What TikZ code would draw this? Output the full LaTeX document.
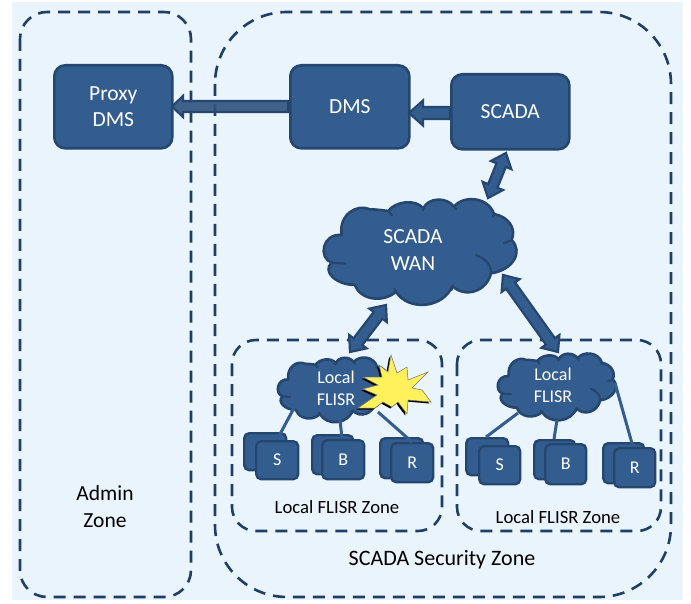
\documentclass[tikz,border=0pt]{standalone}
\usepackage{fontspec}
\setmainfont{Carlito}
\usetikzlibrary{calc}
\definecolor{bgblue}{HTML}{E9F4FC}
\definecolor{boxfill}{HTML}{345D8F}
\definecolor{boxline}{HTML}{25476F}
\definecolor{dashc}{HTML}{1F3F66}
\definecolor{burst}{HTML}{FFF15C}
\tikzset{
  x=1pt,y=-1pt,
  zone/.style={draw=dashc,line width=2.6pt,dash pattern=on 12pt off 8pt,fill=none},
  bluebox/.style={draw=boxline,fill=boxfill,line width=2.6pt,rounded corners=11pt,text=white,font=\fontsize{21.5}{26}\selectfont,align=center,anchor=north west,inner sep=0pt},
  smallbox/.style={draw=boxline,fill=boxfill,line width=2.4pt,rounded corners=5pt,text=white,font=\fontsize{18}{22}\selectfont,inner sep=0pt,anchor=north west},
  cloudbody/.style={draw=boxline,fill=boxfill,line width=2.6pt,line join=round},
  cloudstub/.style={draw=boxline,line width=2.2pt,line cap=round},
  blockar/.style={draw=boxline,fill=boxfill,line width=2.2pt,line join=miter},
  linkline/.style={draw=boxfill,line width=3pt},
  cloudtext/.style={text=white,align=center,inner sep=0pt},
  label/.style={text=black,align=center,inner sep=0pt}
}
% block arrow with a head at both ends: a, b, head length, head half width, shaft half width
\newcommand\dblblock[6][]{%
  \draw[blockar,#1]
    (#2) -- ($($(#2)!#4!(#3)$)!#5!90:(#3)$) -- ($($(#2)!#4!(#3)$)!#6!90:(#3)$)
    -- ($($(#3)!#4!(#2)$)!#6!-90:(#2)$) -- ($($(#3)!#4!(#2)$)!#5!-90:(#2)$)
    -- (#3) -- ($($(#3)!#4!(#2)$)!#5!90:(#2)$) -- ($($(#3)!#4!(#2)$)!#6!90:(#2)$)
    -- ($($(#2)!#4!(#3)$)!#6!-90:(#3)$) -- ($($(#2)!#4!(#3)$)!#5!-90:(#3)$) -- cycle;}
% block arrow with a single head at b
\newcommand\sglblock[6][]{%
  \draw[blockar,#1]
    (#3) -- ($($(#3)!#4!(#2)$)!#5!90:(#2)$) -- ($($(#3)!#4!(#2)$)!#6!90:(#2)$)
    -- ($(#2)!#6!-90:(#3)$) -- ($(#2)!#6!90:(#3)$)
    -- ($($(#3)!#4!(#2)$)!#6!-90:(#2)$) -- ($($(#3)!#4!(#2)$)!#5!-90:(#2)$) -- cycle;}
\newcommand\cloudshape[3]{%
  \begin{scope}[shift={(#1)},xscale=#2,yscale=#3]
  \path[cloudbody] (95,285)
    .. controls (85,225) and (140,190) .. (180,208)
    .. controls (200,208) and (225,212) .. (235,213)
    .. controls (255,185) and (315,175) .. (340,205)
    .. controls (355,172) and (410,170) .. (432,200)
    .. controls (460,165) and (535,170) .. (552,222)
    .. controls (595,230) and (620,265) .. (605,300)
    .. controls (640,335) and (610,390) .. (543,400)
    .. controls (530,455) and (465,475) .. (427,438)
    .. controls (400,505) and (295,515) .. (258,455)
    .. controls (220,490) and (150,480) .. (135,435)
    .. controls (80,435) and (35,395) .. (65,368)
    .. controls (25,355) and (35,280) .. (95,285) -- cycle;
  \draw[cloudstub] (235,213) -- (246,226);
  \draw[cloudstub] (340,205) -- (338,212);
  \draw[cloudstub] (432,200) -- (439,208);
  \draw[cloudstub] (552,222) -- (549,230);
  \draw[cloudstub] (605,300) -- (582,310);
  \draw[cloudstub] (543,400) .. controls (545,375) and (525,355) .. (497,345);
  \draw[cloudstub] (427,438) -- (425,450);
  \draw[cloudstub] (258,455) -- (253,447);
  \draw[cloudstub] (135,435) -- (120,431);
  \draw[cloudstub] (65,368) -- (106,371);
  \end{scope}}
\begin{document}
\begin{tikzpicture}
\useasboundingbox (0,0) rectangle (691,604);
\fill[bgblue] (12,2) rectangle (683,600);
% zones
\draw[zone,rounded corners=27pt] (20,12) rectangle (191,597);
\draw[zone,rounded corners=72pt] (215,12) rectangle (671,597);
\draw[zone,rounded corners=24pt] (232,340) rectangle (442,531);
\draw[zone,rounded corners=24pt] (457,340) rectangle (661,531);
% boxes
\node[bluebox,minimum width=118pt,minimum height=83pt] (proxy) at (53,64) {Proxy\\DMS};
\node[bluebox,minimum width=119pt,minimum height=83pt] (dms) at (289,64) {DMS};
\node[bluebox,minimum width=118pt,minimum height=75pt] (scada) at (450,73) {SCADA};
% clouds
\cloudshape{310,140}{0.3333}{0.3333}
\cloudshape{269.9,321.3}{0.194}{0.204}
\cloudshape{489.4,316}{0.204}{0.211}
\node[cloudtext,font=\fontsize{21.5}{27}\selectfont] (wan) at (413,250) {SCADA\\WAN};
\node[cloudtext,font=\fontsize{18}{22}\selectfont] (lfl) at (336,388) {Local\\FLISR};
\node[cloudtext,font=\fontsize{18}{22}\selectfont] (lfr) at (553,385.5) {Local\\FLISR};
% small boxes
\node[smallbox,minimum width=42pt,minimum height=37pt] (sb1) at (243,432) {};
\node[smallbox,minimum width=42pt,minimum height=38pt] (s1) at (255,440) {S};
\node[smallbox,minimum width=41pt,minimum height=39pt] (bb1) at (311,434) {};
\node[smallbox,minimum width=42pt,minimum height=39pt] (b1) at (321,439) {B};
\node[smallbox,minimum width=43pt,minimum height=40pt] (rb1) at (379,437) {};
\node[smallbox,minimum width=42pt,minimum height=39pt] (r1) at (390,442) {R};
\node[smallbox,minimum width=42pt,minimum height=37pt] (sb2) at (465,437) {};
\node[smallbox,minimum width=41pt,minimum height=38pt] (s2) at (478,445) {S};
\node[smallbox,minimum width=41pt,minimum height=39pt] (bb2) at (533,439) {};
\node[smallbox,minimum width=41pt,minimum height=40pt] (b2) at (544,443) {B};
\node[smallbox,minimum width=41pt,minimum height=40pt] (rb2) at (602,442) {};
\node[smallbox,minimum width=41pt,minimum height=39pt] (r2) at (613,447) {R};
% connector ends
\coordinate (c1a) at (294,408); \coordinate (c1b) at (279,436);
\coordinate (c2a) at (340,420); \coordinate (c2b) at (342,438);
\coordinate (c3a) at (378,412); \coordinate (c3b) at (412,442);
\coordinate (c4a) at (518,413); \coordinate (c4b) at (486,437);
\coordinate (c5a) at (557,420); \coordinate (c5b) at (554,439);
\coordinate (c6a) at (615,383); \coordinate (c6b) at (633,447);
\draw[linkline] (c1a) -- (c1b);
\draw[linkline] (c2a) -- (c2b);
\draw[linkline] (c3a) -- (c3b);
\draw[linkline] (c4a) -- (c4b);
\draw[linkline] (c5a) -- (c5b);
\draw[linkline] (c6a) -- (c6b);
% block arrows
\coordinate (pe) at (172,106.5); \coordinate (de) at (288,106.5);
\coordinate (dr) at (409,113); \coordinate (sl) at (450,113);
\sglblock[fill=boxfill!88!black,fill opacity=.9]{de}{pe}{11pt}{10.5pt}{5.5pt}
\sglblock{sl}{dr}{14pt}{12.5pt}{6pt}
\coordinate (a1) at (506,153); \coordinate (a2) at (488,198);
\coordinate (a3) at (386,305); \coordinate (a4) at (350,352);
\coordinate (a5) at (503,275); \coordinate (a6) at (558,352);
\dblblock{a1}{a2}{13pt}{11pt}{5pt}
\dblblock{a3}{a4}{13pt}{11pt}{5.5pt}
\dblblock{a5}{a6}{13pt}{11pt}{5.5pt}
% burst
\def\burstpts{(391,355) -- (397,373) -- (407,367) -- (408,380) -- (428,372) -- (412,388) -- (422,390)
 -- (431,402) -- (408,400) -- (407,414) -- (398,402) -- (392,407) -- (383,402) -- (375,408)
 -- (358,408) -- (377,395) -- (363,389) -- (378,385) -- (363,377) -- (382,377) -- (379,365) -- (388,372) -- cycle}
\fill[black,xshift=-1.8pt,yshift=-1.5pt] \burstpts;
\draw[fill=burst,draw=black!55,line width=.5pt,line join=miter] \burstpts;
% labels
\node[label,font=\fontsize{21.5}{27}\selectfont] (admin) at (105,507) {Admin\\Zone};
\node[label,font=\fontsize{22}{26}\selectfont] (secz) at (442,560) {SCADA Security Zone};
\node[label,font=\fontsize{18.7}{22}\selectfont] (lz1) at (337,507) {Local FLISR Zone};
\node[label,font=\fontsize{18.7}{22}\selectfont] (lz2) at (558,517) {Local FLISR Zone};
\end{tikzpicture}
\end{document}
